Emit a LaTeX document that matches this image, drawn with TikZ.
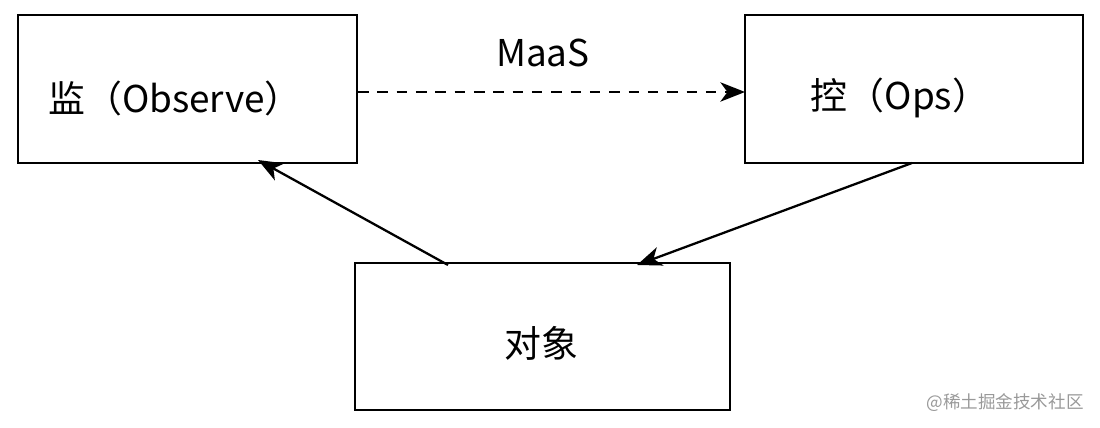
\documentclass[tikz,border=0pt]{standalone}
\usepackage{fontspec}
\setmainfont{Noto Sans CJK SC}
\usetikzlibrary{arrows.meta}
\begin{document}
\begin{tikzpicture}[x=0.02cm,y=-0.02cm,
  box/.style={draw,line width=1.5pt,inner sep=0pt},
  lab/.style={font=\fontsize{21}{24}\selectfont},
  arr/.style={line width=1.3pt,-{Stealth[length=14pt,width=11pt,inset=4pt]}}]
\useasboundingbox (0,0) rectangle (1100,428);
\draw[box] (18,15) rectangle (357,163);
\draw[box] (745,15) rectangle (1083,163);
\draw[box] (355,263) rectangle (730,410);
\node[lab] (l) at (175,98) {监（Observe）};
\node[lab] (r) at (900,98) {控（Ops）};
\node[lab] (b) at (541,343) {对象};
\node[lab] (m) at (543,53) {MaaS};
\coordinate (a1) at (358,92);
\coordinate (a2) at (745,92);
\draw[arr,dashed,dash pattern=on 6pt off 5pt] (a1) -- (a2);
\coordinate (b1) at (448,265);
\coordinate (b2) at (258,160);
\draw[arr] (b1) -- (b2);
\coordinate (c1) at (912,163);
\coordinate (c2) at (637,265);
\draw[arr] (c1) -- (c2);
\node[text=gray!80,font=\fontsize{10}{12}\selectfont] (w) at (1005,403) {@稀土掘金技术社区};
\end{tikzpicture}
\end{document}
